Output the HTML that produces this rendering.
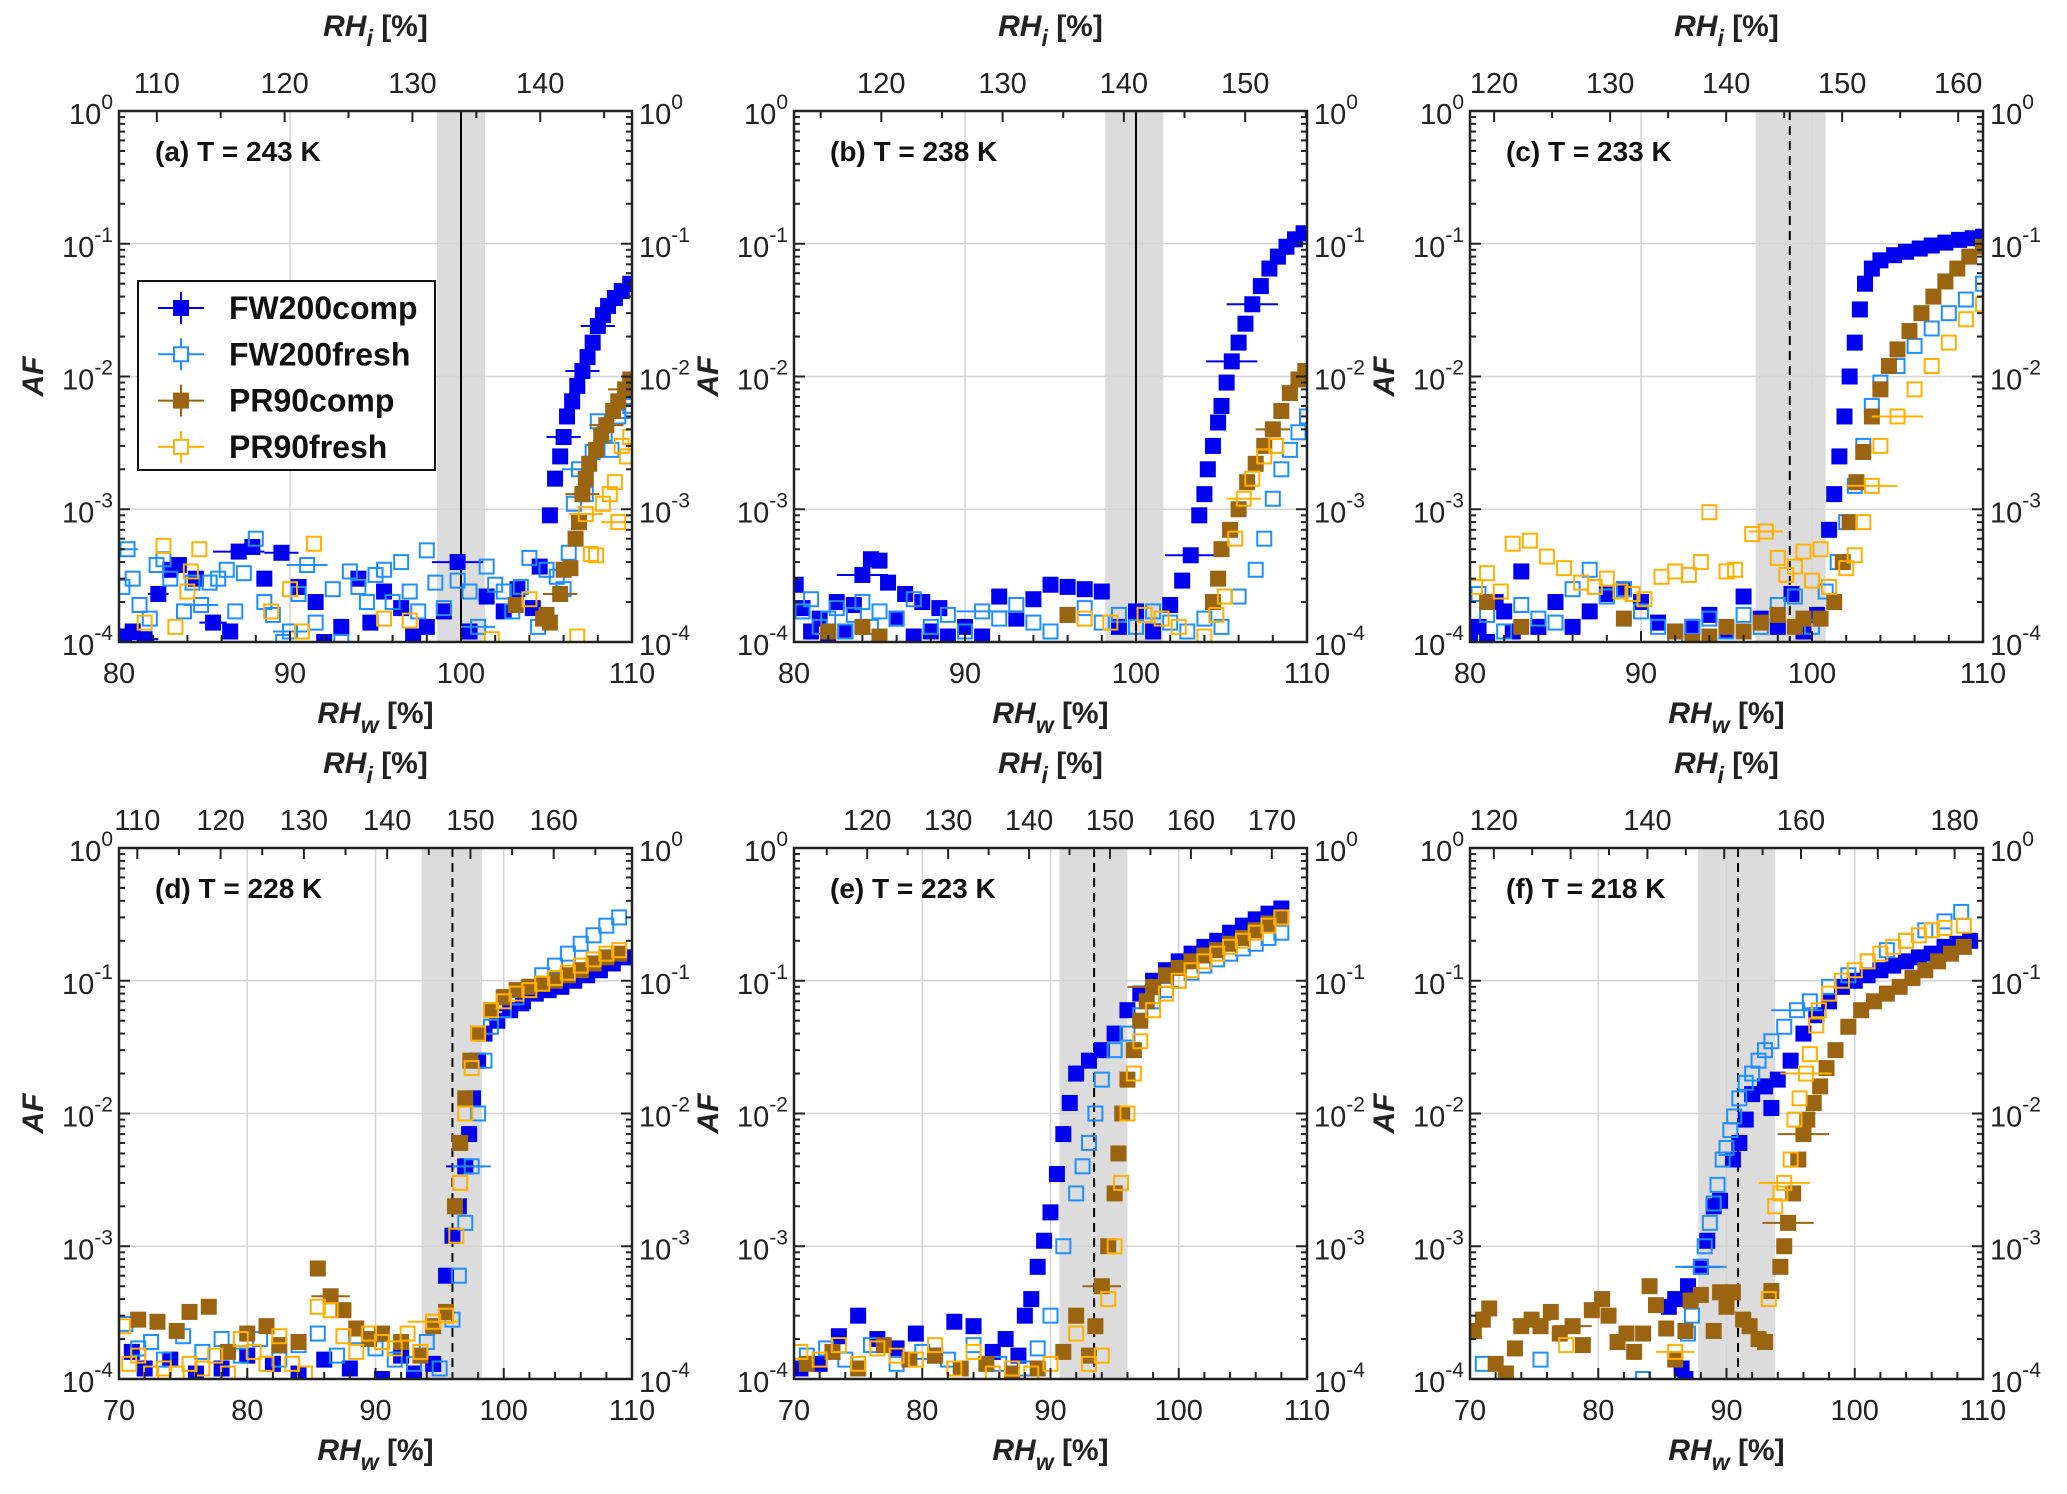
<!DOCTYPE html>
<html><head><meta charset="utf-8"><style>
html,body{margin:0;padding:0;background:#fff}
svg{display:block;font-family:"Liberation Sans",Arial,sans-serif}
</style></head><body>
<svg id="fig" width="2067" height="1494" viewBox="0 0 2067 1494" xmlns="http://www.w3.org/2000/svg"></svg>
<script>
// ===== data =====
const seriesNames = ["FW200comp","FW200fresh","PR90comp","PR90fresh"];
const seriesColors = ["#0000f0","#1e8fff","#9a6410","#ffb000"];
const panelTitles = ["(a) T = 243 K","(b) T = 238 K","(c) T = 233 K","(d) T = 228 K","(e) T = 223 K","(f) T = 218 K"];
const xRanges = [[80,110],[80,110],[80,110],[70,110],[70,110],[70,110]];
const rhiRatio = [1.338,1.41,1.474,1.54,1.585,1.67];
const rhiTicks = [[110,120,130,140],[120,130,140,150],[120,130,140,150,160],[110,120,130,140,150,160],[120,130,140,150,160,170],[120,140,160,180]];
const bands = [[98.6,101.4],[98.2,101.6],[96.7,100.8],[93.6,98.3],[90.7,96.0],[87.8,93.8]];
const vlines = [100,100,98.7,96.0,93.4,90.9];
const vlineDashed = [false,false,true,true,true,true];
const yTickExp = [0,-1,-2,-3,-4];

const A_FWc=[[80.3,1.1e-4],[80.8,1.2e-4],[81.5,1.05e-4,0.8],[82.3,2.3e-4,0.6],[83,3.5e-4],[83.5,3.8e-4],[84.5,3e-4],[85.5,1.4e-4,0.8],[86.5,1.2e-4],[87,4.8e-4,1.5],[87.8,5.2e-4],[88.5,3e-4],[89.5,4.7e-4,1],[90.5,2.6e-4],[91.5,2e-4],[92,1e-4],[93,1.3e-4],[94,3e-4],[94.7,1.4e-4],[95.5,2.4e-4],[96.5,1.8e-4],[97.2,1.1e-4],[98,1.3e-4],[99,1.7e-4],[99.8,4e-4,1.5],[100.5,1.2e-4],[101.5,2.2e-4],[102.5,1.7e-4],[103.3,2.5e-4],[104.2,1.8e-4],[104.6,3.7e-4],[105.2,9e-4],[105.5,1.7e-3],[105.8,2.5e-3],[106,3.5e-3,1],[106.2,5e-3],[106.5,6.5e-3],[106.8,8.5e-3],[107.1,1.1e-2,1],[107.4,1.4e-2],[107.7,1.8e-2],[108,2.4e-2,1],[108.3,2.9e-2],[108.6,3.4e-2],[109,3.9e-2],[109.4,4.4e-2,0.8],[109.9,5e-2]];
const A_FWf=[[80.2,2.6e-4],[80.5,5e-4,0.6],[80.8,3e-4],[81.2,1.9e-4],[81.8,1.5e-4],[82.2,3.8e-4],[82.6,4.2e-4],[83,3e-4],[83.8,1.7e-4],[84.3,2.8e-4],[84.8,1.9e-4,1],[85.3,2.8e-4],[85.8,3e-4],[86.3,3.5e-4],[86.8,1.7e-4],[87.3,3.3e-4],[88,6e-4],[88.5,2e-4],[89,1.6e-4],[89.6,1e-4],[90,1.2e-4,1],[90.5,2.3e-4],[91,3.8e-4,1.2],[91.5,1.4e-4],[92.5,2.5e-4],[93,1e-4],[93.5,3.4e-4],[94,2.6e-4],[94.5,2e-4],[95,3.2e-4],[95.5,3.5e-4],[96,2e-4],[96.5,4e-4],[97,2.4e-4],[97.5,1.7e-4],[98,4.9e-4],[98.5,2.8e-4],[99,1.8e-4],[99.8,2.9e-4],[100.5,2.4e-4],[101,1.3e-4,1],[101.5,3.7e-4],[102,2.7e-4],[102.5,2.4e-4],[103,1.7e-4],[103.5,2.6e-4],[104,4.3e-4],[104.5,1.3e-4],[105,3.5e-4],[105.6,3.1e-4],[106,2.5e-4],[106.3,4.7e-4],[106.6,1.1e-3],[106.9,2e-3,1],[107.3,1.3e-3],[107.7,2.7e-3],[108,4.6e-3],[108.4,3.7e-3],[108.8,2.8e-3],[109.2,5e-3],[109.6,5.5e-3],[109.9,6e-3]];
const A_PRc=[[103.2,1.9e-4],[104.8,1.5e-4],[105,1.6e-4],[105.2,1.4e-4],[105.8,2.3e-4,1],[106,3.5e-4],[106.4,3.6e-4],[106.7,6e-4],[106.9,8e-4],[107.1,1.3e-3,1],[107.3,1.7e-3],[107.5,2.2e-3],[107.9,2.8e-3],[108.2,3.6e-3],[108.5,4.3e-3,1],[108.9,5.5e-3],[109.2,6.5e-3],[109.6,8e-3,1],[109.9,9.5e-3]];
const A_PRf=[[81.5,1.4e-4],[82.6,5.3e-4],[83.3,1.3e-4],[84,2.4e-4],[84.2,3.4e-4],[84.7,5e-4],[88.9,1.7e-4],[90,2.5e-4],[90.7,1.2e-4],[91.4,5.5e-4],[95.5,1.5e-4],[97,1.45e-4],[101.8,1.05e-4],[104,2.1e-4],[106.8,1.1e-4],[107.3,9.2e-4,1],[107.6,4.6e-4],[107.9,4.5e-4],[108.3,1.1e-3],[108.7,1.3e-3],[109,1.6e-3],[109.2,8e-4,1],[109.4,3e-3],[109.7,2.5e-3],[109.9,3.5e-3]];

const B_FWc=[[80.1,2.7e-4],[80.5,1.8e-4],[81,1.2e-4],[81.5,1.5e-4],[82,1.1e-4],[82.5,2e-4],[83,1.2e-4],[83.5,1.9e-4],[84,3.2e-4,1.5],[84.5,4.2e-4],[85,4.1e-4],[85.5,2.8e-4],[86,1.5e-4],[86.5,2.3e-4],[87,1.1e-4],[87.5,2e-4],[88,1.2e-4],[88.5,1.8e-4],[89,1.1e-4],[90,1.3e-4],[91,1.1e-4],[92,2.2e-4],[93,1.5e-4],[94,2.1e-4],[95,2.7e-4],[96,2.6e-4],[97,2.5e-4],[98,2.4e-4],[99,1.3e-4],[100,1.7e-4],[101,1.2e-4],[102,1.9e-4],[102.7,2.9e-4],[103.2,4.5e-4,1.5],[103.7,9e-4],[104,1.3e-3],[104.2,2e-3],[104.5,3e-3],[104.8,4.5e-3],[105,6e-3],[105.3,9e-3],[105.6,1.3e-2,1.5],[106,1.8e-2],[106.4,2.5e-2],[106.8,3.5e-2,1.5],[107.3,4.8e-2],[107.8,6.5e-2],[108.3,8e-2],[108.8,9.5e-2],[109.3,1.08e-1],[109.8,1.2e-1]];
const B_FWf=[[80.5,1.7e-4],[81,2.1e-4],[81.5,1.3e-4],[82,1.5e-4],[82.5,1.8e-4],[83,1.2e-4],[83.5,1.6e-4],[84,2e-4],[84.5,1.3e-4],[85,1.7e-4],[86,1.5e-4],[87,2.1e-4],[88,1.3e-4],[89,1.6e-4],[90,1.2e-4],[91,1.7e-4,1.5],[92,1.5e-4],[93,1.9e-4],[94,1.4e-4],[95,1.2e-4],[96,1.6e-4],[97,1.8e-4],[98,1.4e-4],[99,1.6e-4],[100,1.3e-4],[101,1.7e-4],[102,1.4e-4],[103,1.2e-4],[104,1.5e-4],[105,1.3e-4],[106,2.2e-4],[107,3.5e-4],[107.5,6e-4],[108,1.2e-3],[108.5,2e-3],[109,2.8e-3],[109.5,3.8e-3],[110,5e-3]];
const B_PRc=[[82,1.2e-4],[84,1.3e-4],[85,1.1e-4],[96,1.6e-4],[104.5,2e-4],[104.8,3e-4],[105,5e-4],[105.5,7e-4],[106,1e-3],[106.5,1.6e-3],[107,2.2e-3],[107.5,3e-3],[108,4e-3,1],[108.5,5.5e-3],[109,7.5e-3],[109.5,9.5e-3],[109.9,1.1e-2]];
const B_PRf=[[97,1.5e-4],[98.5,1.4e-4],[100.5,1.6e-4],[101.5,1.5e-4],[102.5,1.3e-4],[104,1.1e-4],[104.7,1.6e-4],[105.2,2.2e-4],[105.8,6e-4],[106.3,1.2e-3,1],[106.8,1.7e-3],[107.5,2.5e-3],[108.2,3e-3]];

const C_FWc=[[80,1.1e-4],[80.5,1.3e-4],[81,1e-4],[81.5,2e-4],[82,1.7e-4],[82.5,1.2e-4],[83,3.4e-4],[84,1.3e-4],[85,2e-4],[86,1.3e-4],[87,1.7e-4],[88,2.3e-4],[89,2.5e-4],[90,2e-4],[91,1.4e-4],[92,1.2e-4],[93,1.3e-4],[94,1.6e-4],[95,1.2e-4],[96,2.2e-4],[97,1.5e-4],[98,1.3e-4],[98.8,2.3e-4],[99.5,1.2e-4],[100.3,1.6e-4],[101,7e-4],[101.3,1.3e-3],[101.6,2.5e-3],[101.9,5e-3],[102.2,1e-2],[102.5,1.8e-2],[102.8,3.2e-2],[103.1,5e-2],[103.5,6.5e-2],[104,7.5e-2],[104.8,8.2e-2],[105.5,8.7e-2],[106.3,9.2e-2],[107,9.7e-2],[107.8,1.02e-1],[108.6,1.07e-1],[109.4,1.1e-1],[110,1.13e-1]];
const C_FWf=[[80.5,2.3e-4],[81,1.6e-4],[82,1.2e-4],[83,1.9e-4],[84,1.5e-4],[85,1.4e-4],[86,2.5e-4],[87,3.5e-4],[88,2.2e-4],[89,2.5e-4],[90,1.7e-4],[91,1.3e-4],[92,1.1e-4],[93,1.3e-4],[94,1.5e-4],[95,1.2e-4],[96,1.6e-4],[97,1.3e-4],[98,1.9e-4],[99,2.2e-4],[100,1.3e-4],[100.8,2.4e-4],[101.5,4e-4],[102,8e-4],[102.5,1.5e-3],[103,3e-3],[103.5,6e-3],[104,9e-3],[105,1.2e-2],[106,1.7e-2],[107,2.3e-2],[108,3e-2],[109,3.8e-2],[110,5e-2]];
const C_PRc=[[81,2e-4],[83,1.3e-4],[89,1.5e-4],[92,1.2e-4],[93,1e-4],[94,1.1e-4],[95,1.3e-4],[96,1.2e-4],[97,1.4e-4],[98,1.6e-4],[99,1.3e-4],[99.5,1.5e-4],[100.5,1.5e-4],[101.3,2e-4],[101.8,4e-4],[102.2,8e-4],[102.6,1.6e-3],[103,2.7e-3],[103.5,5e-3],[104,8e-3],[104.5,1.2e-2],[105,1.6e-2],[105.7,2.2e-2],[106.4,3e-2],[107.1,4e-2],[107.8,5.2e-2],[108.5,6.5e-2],[109.2,8e-2],[110,9.5e-2]];
const C_PRf=[[80.3,2.6e-4],[81,3.3e-4],[81.8,2.4e-4],[82.5,5.5e-4],[83.5,5.8e-4],[84.5,4.4e-4],[85.5,3.6e-4],[86.5,2.8e-4],[87.3,2.6e-4],[88,3e-4],[88.8,2.4e-4],[89.5,2.3e-4],[90.2,2.1e-4],[91.2,3.1e-4],[92,3.4e-4],[92.8,3.2e-4],[93.5,4e-4],[94,9.5e-4],[95,3.4e-4],[95.5,3.5e-4],[96.5,6.5e-4],[97.3,6.8e-4,1],[98,4.3e-4],[98.5,3.2e-4],[99,3.7e-4],[99.5,4.8e-4],[100,2.9e-4],[100.5,5e-4],[101,2.6e-4],[102,3.6e-4],[102.5,4.5e-4],[103,8e-4],[103.5,1.5e-3,1.5],[104,3e-3],[105,5e-3,1.5],[106,8e-3],[107,1.2e-2],[108,1.8e-2],[109,2.7e-2],[110,3.5e-2]];

const D_FWc=[[71,1.6e-4],[72,1.2e-4],[74,1.4e-4],[76,1.1e-4],[78,1.2e-4],[80,1.5e-4],[82,1.3e-4],[84,1.1e-4],[86,1.4e-4],[88,1.2e-4],[90.5,1e-4],[92,1.5e-4],[93,1.1e-4],[94.5,1.3e-4],[95.5,6e-4],[96,1.2e-3],[96.5,2e-3],[97,4e-3,1.5],[97.3,7e-3],[97.6,1.3e-2],[98,2.5e-2],[98.5,4e-2],[99.5,5e-2],[100.5,6e-2,1.5],[101.5,7e-2],[102.5,8e-2],[103.5,8.5e-2],[104.5,9e-2],[105.5,1e-1],[106.5,1.1e-1],[107.5,1.2e-1],[108.5,1.35e-1],[109.5,1.5e-1]];
const D_FWf=[[70.5,2.6e-4],[71.5,1.7e-4],[72.5,1.9e-4],[73.5,1.4e-4],[75,2.1e-4],[76.5,1.6e-4],[78,2e-4],[79.5,1.5e-4],[81,2e-4],[82.5,1.4e-4],[84,1.8e-4],[85.5,2.2e-4],[87,1.5e-4],[88.5,2.1e-4],[90,1.7e-4],[91.5,1.4e-4],[93,1.3e-4],[94,1.9e-4],[95,1.2e-4],[96,2.8e-4],[96.5,6e-4],[97,1.5e-3],[97.5,4e-3,1.5],[98,1e-2],[98.5,2.5e-2],[99,4.5e-2],[100,6e-2],[101,7.5e-2],[102,9e-2],[103,1.1e-1],[104,1.3e-1],[105,1.6e-1],[106,1.9e-1],[107,2.2e-1],[108,2.6e-1],[109,3e-1]];
const D_PRc=[[71.5,2.8e-4],[73,2.7e-4],[74.5,2.3e-4],[75.5,3.2e-4],[77,3.5e-4],[78.5,1.6e-4],[80,2.2e-4],[81.5,2.5e-4],[82.5,1.8e-4],[84,1.9e-4],[85.5,6.8e-4],[86.5,4.2e-4,1.5],[87.5,3.3e-4],[88.5,2.4e-4],[89.5,2e-4],[90.5,2.2e-4],[92,1.9e-4],[93.5,1.5e-4],[94.5,2.5e-4],[95.5,3.2e-4],[96.2,2e-3],[96.6,6e-3],[97,1.3e-2],[97.4,2.5e-2],[98,4e-2],[99,6e-2],[100,7.5e-2],[101,8.5e-2,1.5],[102,9e-2],[103,9.5e-2],[104,1e-1],[105,1.1e-1],[106,1.2e-1],[107,1.35e-1],[108,1.5e-1],[109,1.6e-1]];
const D_PRf=[[70.3,2.5e-4],[70.8,1.3e-4],[71.5,1.5e-4],[72.5,1.1e-4],[73.5,1.2e-4],[74.5,1.1e-4],[75.5,1.3e-4],[76.5,1.2e-4],[77.5,1.5e-4],[78.5,1.1e-4],[79.5,2e-4],[80.5,1.6e-4],[81.5,1.3e-4],[82.5,2.1e-4],[83.5,1.3e-4],[84.5,1.1e-4],[85.5,3.5e-4],[86.5,3.3e-4],[87.5,2.1e-4],[88.5,1.6e-4],[89.5,2.2e-4],[90.5,1.9e-4],[91.5,1.7e-4],[92.5,2.2e-4],[93.5,1.6e-4],[94.5,2.7e-4,2],[95.5,3e-4],[96.3,1.2e-3],[96.6,3e-3],[97,1e-2],[97.5,2.2e-2],[98,4e-2],[99,6e-2],[100,7e-2],[101,8e-2],[102,8.5e-2],[103,9.5e-2],[104,1.05e-1],[105,1.15e-1],[106,1.3e-1],[107,1.45e-1],[108,1.6e-1],[109,1.7e-1]];

const E_FWc=[[70.5,1.2e-4],[72,1.3e-4],[73.5,2.1e-4],[75,3e-4],[76.5,2e-4],[78,1.7e-4],[79.5,2.2e-4],[81,1.5e-4],[82.5,2.7e-4],[84,2.5e-4],[85.5,1.6e-4],[86.5,2e-4],[87.5,1.5e-4],[88,3e-4],[88.5,4e-4],[89,7e-4],[89.5,1.1e-3],[90,1.8e-3],[90.5,3.5e-3],[91,7e-3],[91.5,1.2e-2],[92,2e-2],[93,2.5e-2],[94,3e-2],[95,4e-2],[96,6e-2],[97,8e-2],[98,1e-1],[99,1.2e-1],[100,1.4e-1],[101,1.6e-1],[102,1.8e-1],[103,2e-1],[104,2.3e-1],[105,2.6e-1],[106,2.9e-1],[107,3.2e-1],[108,3.5e-1]];
const E_FWf=[[71,1.5e-4],[72.5,1.7e-4],[74,1.4e-4],[76,1.8e-4],[78,1.3e-4],[80,1.6e-4],[82,1.4e-4],[84,1.8e-4],[86,1.3e-4],[88,1.2e-4],[89,1.7e-4],[90,3e-4],[91,1e-3],[92,2.5e-3],[92.5,4e-3],[93,6e-3],[93.5,1e-2],[94,1.8e-2],[95,3e-2],[96,4e-2],[97,5.5e-2],[98,7e-2],[99,8.5e-2],[100,1e-1],[101,1.15e-1],[102,1.3e-1],[103,1.45e-1],[104,1.6e-1],[105,1.75e-1],[106,1.9e-1],[107,2.1e-1],[108,2.3e-1]];
const E_PRc=[[71,1.3e-4],[73,1.6e-4],[75,1.2e-4],[77,1.8e-4],[79,1.4e-4],[81,1.5e-4],[83,1.2e-4],[85,1.3e-4],[87,1.1e-4],[89,1.2e-4],[91,1.6e-4],[92,3e-4],[93,1.5e-4],[93.5,2.5e-4],[94,5e-4,1.5],[94.5,1e-3],[95,2.5e-3],[95.3,5e-3],[95.6,1e-2],[96,1.8e-2],[96.5,3e-2],[97,5e-2],[97.5,7e-2],[98,9e-2,2],[99,1.1e-1],[100,1.25e-1],[101,1.4e-1],[102,1.55e-1],[103,1.7e-1],[104,1.9e-1],[105,2.1e-1],[106,2.4e-1],[107,2.7e-1],[108,3e-1]];
const E_PRf=[[70.5,1.6e-4],[72,1.4e-4],[73.5,1.8e-4],[75,1.3e-4],[76.5,1.7e-4],[78,1.5e-4],[79.5,1.4e-4],[81,1.8e-4],[82.5,1.2e-4],[84,1.6e-4],[85.5,1.1e-4],[87,1.2e-4],[88.5,1.1e-4],[90,1.3e-4],[92,2.2e-4],[93,1.3e-4],[94,1.5e-4],[94.5,4e-4],[95,1e-3],[95.5,3e-3],[96,1e-2],[96.5,2e-2],[97,3.5e-2],[98,6e-2],[99,8e-2],[100,1e-1],[101,1.2e-1],[102,1.4e-1],[103,1.6e-1],[104,1.8e-1],[105,2e-1],[106,2.3e-1],[107,2.6e-1],[108,3e-1]];

const F_FWc=[[86.5,1.2e-4],[86.8,1e-4],[85.5,3.5e-4],[86,4e-4],[87,5e-4],[88,7e-4,1.5],[88.5,1.1e-3],[89,2e-3],[89.5,2.2e-3],[90.5,4.5e-3],[91,6e-3],[91.5,9e-3],[92,1.4e-2],[93,1.6e-2],[93.5,1.1e-2],[94,1.8e-2],[95,2.5e-2],[96,4e-2],[97,5.5e-2],[98,7e-2],[99,9e-2],[100,1e-1],[101,1.1e-1],[102,1.2e-1],[103,1.3e-1],[104,1.4e-1],[105,1.5e-1],[106,1.6e-1],[107,1.8e-1],[108,1.9e-1],[109,2e-1]];
const F_FWf=[[71,1.3e-4],[75.5,1.4e-4],[83.5,1e-4],[87,2.2e-4],[87.3,3e-4],[88,7e-4,2],[88.3,1e-3],[88.7,1.5e-3],[89,2.1e-3],[89.3,2.9e-3],[89.7,4.5e-3],[90,5.5e-3],[90.3,7.5e-3],[90.6,9.5e-3],[91,1.3e-2],[91.5,1.7e-2],[92,2e-2],[92.5,2.5e-2],[93,3e-2],[93.5,3.5e-2],[94.5,4.5e-2],[95.5,6e-2,2],[96.5,7e-2],[98,9e-2],[99.5,1.1e-1],[101,1.4e-1],[102.5,1.7e-1],[104,2e-1],[105.5,2.4e-1],[107,2.8e-1],[108.3,3.3e-1]];
const F_PRc=[[70.3,2.3e-4],[71,2.8e-4],[71.5,3.4e-4],[72,1.3e-4],[72.8,1.1e-4],[73.5,1.7e-4],[74,2.5e-4],[74.8,2.8e-4,1.5],[75.5,2.5e-4],[76.3,3.2e-4],[77,2.2e-4],[78,2.5e-4,1.5],[78.8,1.8e-4],[79.5,3.3e-4],[80.3,4e-4],[80.8,3e-4],[81.5,1.9e-4],[82.2,2.2e-4],[82.8,1.6e-4],[83.5,2.2e-4],[84,5e-4],[84.5,3.6e-4],[85.3,2.4e-4],[86,1.4e-4],[86.8,2.3e-4],[87.2,3.9e-4],[88,4.3e-4],[89,2.3e-4],[89.5,4.5e-4],[90,3.5e-4],[90.5,4.5e-4],[91.3,2.8e-4],[91.8,2.5e-4],[92.5,2e-4],[93,1.9e-4],[93.5,4.6e-4],[94.2,7e-4],[94.5,1e-3],[94.8,1.5e-3,2],[95.2,2.5e-3],[95.6,4.5e-3],[96,7e-3,2],[96.3,9e-3],[96.8,1.2e-2],[97.3,1.6e-2],[97.8,2.2e-2],[98.5,3e-2],[99.5,4.5e-2],[100.5,6e-2],[101.5,7e-2],[102.5,8e-2],[103.5,9e-2],[104.5,1.05e-1],[105.5,1.2e-1],[106.5,1.4e-1],[107.5,1.6e-1],[108.5,1.8e-1]];
const F_PRf=[[77.5,1.8e-4],[86,1.6e-4,1.5],[93.3,4e-4],[93.8,2e-3],[94.2,2.5e-3],[94.5,3e-3,2],[95,4.5e-3],[95.3,9e-3],[95.7,1.3e-2],[96.2,2e-2,2],[96.5,2.8e-2],[97,4.6e-2],[97.2,6e-2],[98,8e-2],[99,1e-1],[100,1.2e-1],[101,1.4e-1],[102,1.6e-1],[103,1.8e-1],[104,2e-1],[105,2.2e-1],[106,2.4e-1],[107,2.5e-1],[108.5,2.6e-1]];

const panelData=[[A_FWc,A_FWf,A_PRc,A_PRf],[B_FWc,B_FWf,B_PRc,B_PRf],[C_FWc,C_FWf,C_PRc,C_PRf],[D_FWc,D_FWf,D_PRc,D_PRf],[E_FWc,E_FWf,E_PRc,E_PRf],[F_FWc,F_FWf,F_PRc,F_PRf]];

// ===== layout =====
const NS="http://www.w3.org/2000/svg";
const svg=document.getElementById('fig');
const panelLeft=[119,794,1470,119,794,1470];
const panelTop=[111,111,111,848,848,848];
const PW=513, PH=531;
function mk(tag,attrs,parent){const e=document.createElementNS(NS,tag);for(const k in attrs)e.setAttribute(k,attrs[k]);(parent||svg).appendChild(e);return e;}
const defs=mk('defs',{});

for(let p=0;p<6;p++){
  const L=panelLeft[p],T=panelTop[p],R=L+PW,B=T+PH;
  const [x0,x1]=xRanges[p];
  const sx=v=>L+(v-x0)/(x1-x0)*PW;
  const sy=v=>T+(-Math.log10(v))/4*PH;
  const g=mk('g',{});
  
  
  const cp=mk('clipPath',{id:'cp'+p},defs);
  mk('rect',{x:L,y:T,width:PW,height:PH},cp);
  const band=mk('rect',{x:sx(bands[p][0]),y:T,width:sx(bands[p][1])-sx(bands[p][0]),height:PH,fill:'#dcdcdc'},g);
  
  
  for(let v=x0;v<=x1;v+=10){ if(v>x0&&v<x1){const l=mk('line',{x1:sx(v),x2:sx(v),y1:T,y2:B,stroke:'#d4d4d4','stroke-width':1.5},g);}}
  for(const e of yTickExp){ if(e<0&&e>-4){const l=mk('line',{x1:L,x2:R,y1:sy(Math.pow(10,e)),y2:sy(Math.pow(10,e)),stroke:'#d4d4d4','stroke-width':1.5},g);}}
  const vl=mk('line',{x1:sx(vlines[p]),x2:sx(vlines[p]),y1:T,y2:B,stroke:'#000','stroke-width':2,'stroke-dasharray':vlineDashed[p]?'9,6':'none'},g);
  
  
  const dg=mk('g',{'clip-path':'url(#cp'+p+')'},g);
  panelData[p].forEach((pts,si)=>{
    const col=seriesColors[si];const filled=(si%2===0);
    const sg=mk('g',{},dg);
    
    
    pts.forEach(pt=>{
      const cx=sx(pt[0]),cy=sy(pt[1]);
      if(pt[2]){const eb=mk('line',{x1:sx(pt[0]-pt[2]),x2:sx(pt[0]+pt[2]),y1:cy,y2:cy,stroke:col,'stroke-width':2},sg);}
      let m;
      if(filled) m=mk('rect',{x:cx-8,y:cy-8,width:16,height:16,fill:col},sg);
      else m=mk('rect',{x:cx-7,y:cy-7,width:14,height:14,fill:'none',stroke:col,'stroke-width':2},sg);
      
      
    });
  });
  const box=mk('rect',{x:L,y:T,width:PW,height:PH,fill:'none',stroke:'#222','stroke-width':2.5},g);
  
  
  for(let e=0;e>=-4;e--){
    const yy=sy(Math.pow(10,e));
    mk('line',{x1:L,x2:L+11,y1:yy,y2:yy,stroke:'#222','stroke-width':2},g);
    mk('line',{x1:R-11,x2:R,y1:yy,y2:yy,stroke:'#222','stroke-width':2},g);
    if(e>-4)for(let k=2;k<=9;k++){const ym=sy(k*Math.pow(10,e-1));
      mk('line',{x1:L,x2:L+6,y1:ym,y2:ym,stroke:'#222','stroke-width':2},g);
      mk('line',{x1:R-6,x2:R,y1:ym,y2:ym,stroke:'#222','stroke-width':2},g);}
    const tl=mk('text',{x:L-6,y:yy+13,'text-anchor':'end','font-size':29,fill:'#222'},g);
    
    
    tl.innerHTML='10<tspan dy="-15" font-size="21">'+e+'</tspan>';
    const tr=mk('text',{x:R+7,y:yy+13,'font-size':29,fill:'#222'},g);
    
    
    tr.innerHTML='10<tspan dy="-15" font-size="21">'+e+'</tspan>';
  }
  for(let v=x0;v<=x1;v+=2){const xx=sx(v);const big=(v%10===0);
    mk('line',{x1:xx,x2:xx,y1:B,y2:B-(big?11:7),stroke:'#222','stroke-width':2},g);
    if(big){const t=mk('text',{x:xx,y:B+41,'text-anchor':'middle','font-size':29,fill:'#222'},g);t.textContent=v;
      
      }}
  const r=rhiRatio[p];
  for(let v=Math.ceil(x0*r/5)*5;v<=x1*r;v+=5){const xx=sx(v/r);const big=(v%10===0);
    mk('line',{x1:xx,x2:xx,y1:T,y2:T+(big?11:7),stroke:'#222','stroke-width':2},g);}
  rhiTicks[p].forEach(v=>{const t=mk('text',{x:sx(v/r),y:T-18,'text-anchor':'middle','font-size':29,fill:'#222'},g);t.textContent=v;
    
    });
  const xt=mk('text',{x:L+PW/2,y:B+81,'text-anchor':'middle','font-size':30,'font-weight':'bold',fill:'#222'},g);
  xt.innerHTML='<tspan font-style="italic">RH</tspan><tspan font-style="italic" dy="10" font-size="23">w</tspan><tspan dy="-10"> [%]</tspan>';
  
  
  const tt=mk('text',{x:L+PW/2,y:T-75,'text-anchor':'middle','font-size':30,'font-weight':'bold',fill:'#222'},g);
  tt.innerHTML='<tspan font-style="italic">RH</tspan><tspan font-style="italic" dy="10" font-size="23">i</tspan><tspan dy="-10"> [%]</tspan>';
  
  
  const yt=mk('text',{x:0,y:0,'text-anchor':'middle','font-size':30,'font-weight':'bold','font-style':'italic',fill:'#222',transform:'translate('+(L-76)+','+(T+PH/2)+') rotate(-90)'},g);
  yt.textContent='AF';
  
  
  const pt=mk('text',{x:L+36,y:T+50,'font-size':28,'font-weight':'bold',fill:'#111'},g);
  pt.textContent=panelTitles[p];
  
  
}
const lg=mk('g',{});


mk('rect',{x:138,y:281,width:297,height:189,fill:'#fff',stroke:'#111','stroke-width':2},lg);
seriesNames.forEach((n,i)=>{
  const yy=308+i*46.3;const col=seriesColors[i];
  const e=mk('g',{},lg);
  
  
  mk('line',{x1:158,x2:204,y1:yy,y2:yy,stroke:col,'stroke-width':2},e);
  mk('line',{x1:181,x2:181,y1:yy-16,y2:yy+16,stroke:col,'stroke-width':2},e);
  if(i%2===0) mk('rect',{x:173,y:yy-8,width:16,height:16,fill:col},e);
  else mk('rect',{x:174,y:yy-7,width:14,height:14,fill:'#fff',stroke:col,'stroke-width':2},e);
  const t=mk('text',{x:229,y:yy+11,'font-size':32,'font-weight':'bold',fill:'#111'},e);
  t.textContent=n;
});
</script>
</body></html>
